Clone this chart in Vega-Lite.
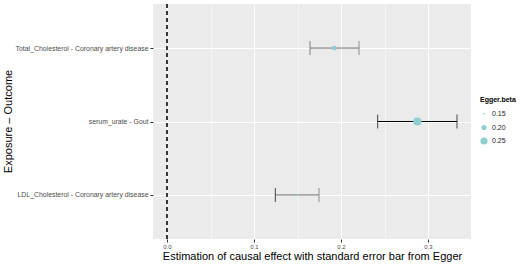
{
  "$schema": "https://vega.github.io/schema/vega-lite/v6.json",
  "autosize": {"type": "none"},
  "padding": {"left": 153, "top": 4, "right": 59, "bottom": 26},
  "width": 318,
  "height": 235,
  "background": "white",
  "config": {
    "view": {"fill": "#ebebeb", "stroke": null},
    "font": "Liberation Sans",
    "axis": {
      "domain": false,
      "gridColor": "white",
      "tickColor": "#333333",
      "tickSize": 3,
      "labelColor": "#4d4d4d",
      "labelFontSize": 6.9,
      "labelFont": "Liberation Sans",
      "titleFont": "Liberation Sans",
      "titleFontSize": 11,
      "titleFontWeight": "normal",
      "titleColor": "black"
    }
  },
  "data": {
    "values": [
      {"label": "Total_Cholesterol  -  Coronary artery disease", "beta": 0.1923, "lo": 0.1644, "hi": 0.2207},
      {"label": "serum_urate  -  Gout", "beta": 0.2877, "lo": 0.2421, "hi": 0.3333},
      {"label": "LDL_Cholesterol  -  Coronary artery disease", "beta": 0.1494, "lo": 0.1245, "hi": 0.1747}
    ]
  },
  "encoding": {
    "y": {
      "field": "label",
      "type": "nominal",
      "sort": ["Total_Cholesterol  -  Coronary artery disease", "serum_urate  -  Gout", "LDL_Cholesterol  -  Coronary artery disease"],
      "scale": {"type": "point", "padding": 0.6},
      "axis": {
        "title": "Exposure – Outcome",
        "grid": true,
        "gridWidth": 1.1,
        "labelPadding": 2,
        "titleX": -145,
        "titleY": 117,
        "titleAngle": -90,
        "titleAlign": "center",
        "titleBaseline": "middle"
      }
    }
  },
  "layer": [
    {
      "mark": {"type": "rule", "strokeDash": [4, 3], "color": "black", "strokeWidth": 0.8},
      "encoding": {
        "x": {
          "datum": 0,
          "type": "quantitative",
          "scale": {"domain": [-0.0161, 0.3494], "nice": false, "zero": false},
          "axis": {
            "title": "Estimation of causal effect with standard error bar from Egger",
            "values": [0, 0.05, 0.1, 0.15, 0.2, 0.25, 0.3],
            "labelExpr": "abs(datum.value * 10 - round(datum.value * 10)) < 0.01 ? format(datum.value, '.1f') : ''",
            "labelFontSize": 6,
            "grid": true,
            "gridWidth": {"condition": {"test": "abs(datum.value * 10 - round(datum.value * 10)) < 0.01", "value": 1.1}, "value": 0.5},
            "tickOpacity": {"condition": {"test": "abs(datum.value * 10 - round(datum.value * 10)) < 0.01", "value": 1}, "value": 0},
            "labelPadding": 1,
            "titleY": 17,
            "titleBaseline": "middle"
          }
        },
        "y": null
      }
    },
    {
      "mark": {"type": "rule", "strokeWidth": 1},
      "encoding": {
        "x": {"field": "lo", "type": "quantitative"},
        "x2": {"field": "hi"},
        "color": {"condition": {"test": "datum.label == 'serum_urate  -  Gout'", "value": "black"}, "value": "#6e6e6e"}
      }
    },
    {
      "mark": {"type": "tick", "orient": "vertical", "size": 14, "thickness": 1},
      "encoding": {
        "x": {"field": "lo", "type": "quantitative"},
        "color": {"condition": {"test": "datum.label == 'Total_Cholesterol  -  Coronary artery disease'", "value": "#555555"}, "value": "black"}
      }
    },
    {
      "mark": {"type": "tick", "orient": "vertical", "size": 14, "thickness": 1},
      "encoding": {
        "x": {"field": "hi", "type": "quantitative"},
        "color": {"condition": {"test": "datum.label == 'serum_urate  -  Gout'", "value": "black"}, "value": "#666666"}
      }
    },
    {
      "mark": {"type": "circle", "color": "#8fcfcf", "opacity": 1},
      "encoding": {
        "x": {"field": "beta", "type": "quantitative"},
        "size": {
          "field": "beta",
          "type": "quantitative",
          "title": "Egger.beta",
          "scale": {"domain": [0.15, 0.25], "range": [3, 50], "zero": false, "nice": false, "clamp": false},
          "legend": {
            "orient": "none",
            "legendX": 327,
            "legendY": 92,
            "values": [0.15, 0.2, 0.25],
            "format": ".2f",
            "titleFontSize": 7,
            "titleFontWeight": "bold",
            "titleFont": "Liberation Sans",
            "titleColor": "black",
            "labelFontSize": 7,
            "labelFont": "Liberation Sans",
            "labelColor": "#1a1a1a",
            "symbolFillColor": "#8fcfcf",
            "symbolStrokeWidth": 0,
            "symbolOpacity": 1,
            "rowPadding": 6,
            "titlePadding": 7
          }
        }
      }
    }
  ]
}
